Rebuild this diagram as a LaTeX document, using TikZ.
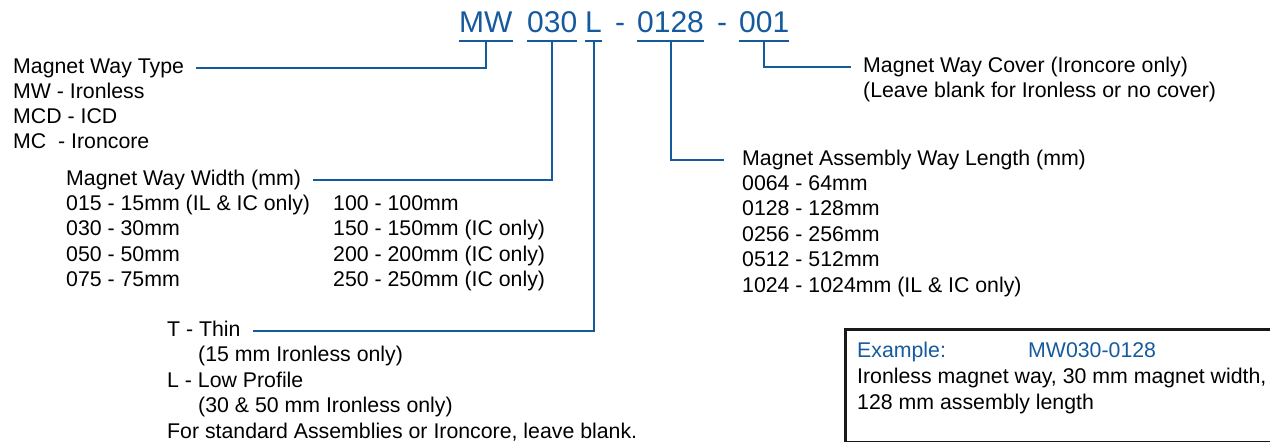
\documentclass[tikz,border=0pt]{standalone}
\usepackage{fontspec}
\setmainfont{Liberation Sans}
\usetikzlibrary{positioning}
\definecolor{wayblue}{RGB}{22,90,158}

\begin{document}
\begin{tikzpicture}[x=1pt, y=-1pt,
  desc/.style={inner sep=0pt, text height=14pt, text depth=4pt, font=\fontsize{21.3}{25}\selectfont},
  codepart/.style={inner sep=0pt, anchor=base west, text=wayblue, font=\fontsize{30}{36}\selectfont},
  underl/.style={draw=wayblue, line width=2pt},
  leader/.style={draw=wayblue, line width=2pt, shorten >=12pt},
  exframe/.style={draw=black!90, line width=2.5pt, inner sep=0pt}]
\useasboundingbox (0,0) rectangle (1270,442);

% part number
\node[codepart] (mw) at (459,32) {MW};
\node[codepart] (wid) at (527,32) {030};
\node[codepart] (prof) at (585,32) {L};
\node[codepart] (dasha) at (615,32) {-};
\node[codepart] (len) at (637,32) {0128};
\node[codepart] (dashb) at (717,32) {-};
\node[codepart] (cov) at (739,32) {001};
\foreach \p in {mw,wid,prof,len,cov}
  \draw[underl] ([yshift=-9pt]\p.base west) -- ([yshift=-9pt]\p.base east);

% magnet way type
\node[desc, anchor=west] (typehead) at (13,68) {Magnet Way Type};
\foreach \t [count=\i] in {MW - Ironless, MCD - ICD, MC\ \ - Ironcore}
  \node[desc, anchor=base west] (type\i) at ([yshift=-\i*25.3pt]typehead.base west) {\t};
\draw[leader] ([yshift=-9pt]mw.base) |- (typehead.east);

% magnet way width
\node[desc, anchor=west] (widhead) at (66,180) {Magnet Way Width (mm)};
\foreach \t [count=\i] in {015 - 15mm (IL \& IC only), 030 - 30mm, 050 - 50mm, 075 - 75mm}
  \node[desc, anchor=base west] (wida\i) at ([yshift=-\i*25.4pt]widhead.base west) {\t};
\foreach \t [count=\i] in {100 - 100mm, 150 - 150mm (IC only), 200 - 200mm (IC only), 250 - 250mm (IC only)}
  \node[desc, anchor=base west] (widb\i) at ([xshift=267pt, yshift=-\i*25.4pt]widhead.base west) {\t};
\draw[leader] ([yshift=-9pt]wid.base) |- (widhead.east);

% profile
\node[desc, anchor=west] (thinhead) at (167,331) {T - Thin};
\node[desc, anchor=base west] (thin1) at ([xshift=31pt, yshift=-25.5pt]thinhead.base west) {(15 mm Ironless only)};
\node[desc, anchor=base west] (low) at ([yshift=-51pt]thinhead.base west) {L - Low Profile};
\node[desc, anchor=base west] (low1) at ([xshift=31pt, yshift=-25.5pt]low.base west) {(30 \& 50 mm Ironless only)};
\node[desc, anchor=base west] (std) at ([yshift=-51pt]low.base west) {For standard Assemblies or Ironcore, leave blank.};
\draw[leader] ([yshift=-9pt]prof.base) |- (thinhead.east);

% way length
\node[desc, anchor=west] (lenhead) at (742,160) {Magnet Assembly Way Length (mm)};
\foreach \t [count=\i] in {0064 - 64mm, 0128 - 128mm, 0256 - 256mm, 0512 - 512mm, 1024 - 1024mm (IL \& IC only)}
  \node[desc, anchor=base west] (len\i) at ([yshift=-\i*25.4pt]lenhead.base west) {\t};
\draw[leader, shorten >=18pt] ([yshift=-9pt]len.base) |- (lenhead.west);

% cover
\node[desc, anchor=west] (covhead) at (863,67) {Magnet Way Cover (Ironcore only)};
\node[desc, anchor=base west] (cov1) at ([yshift=-25.5pt]covhead.base west) {(Leave blank for Ironless or no cover)};
\draw[leader] ([yshift=-9pt]cov.base) |- (covhead.west);

% example
\node[exframe, anchor=north west, minimum width=450pt, minimum height=113pt] (exbox) at (844,328) {};
\node[desc, anchor=base west, text=wayblue] (exlabel) at (857,357) {Example:};
\node[desc, anchor=base west, text=wayblue] (excode) at (1028,357) {MW030-0128};
\node[desc, anchor=base west] (ex1) at (857,383) {Ironless magnet way, 30 mm magnet width,};
\node[desc, anchor=base west] (ex2) at (857,409) {128 mm assembly length};
\end{tikzpicture}
\end{document}
